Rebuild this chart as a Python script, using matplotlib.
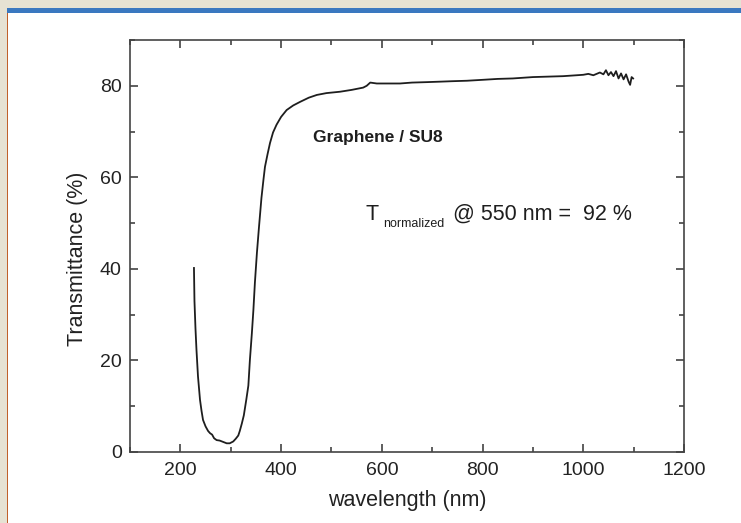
import matplotlib
matplotlib.use("Agg")
import matplotlib.pyplot as plt
from matplotlib.patches import Rectangle
from matplotlib.ticker import MultipleLocator

plt.rcParams["font.family"] = ["Liberation Sans", "DejaVu Sans"]

# transmittance spectrum
wavelength = [227, 228, 230, 232, 235, 239, 242, 245, 250, 255,
              259, 263, 267, 272, 278, 285, 292, 298, 305, 310,
              315, 318, 322, 326, 328, 331, 335, 338, 342, 345,
              348, 352, 356, 361, 365, 368, 373, 378, 384, 391,
              400, 411, 424, 438, 455, 471, 490, 517, 540, 563,
              570, 577, 590, 616, 636, 660, 690, 716, 740, 769,
              800, 830, 860, 900, 930, 960, 987, 1000, 1010, 1020,
              1033, 1040, 1045, 1050, 1055, 1060, 1065, 1070, 1075, 1080,
              1085, 1090, 1093, 1096, 1099]
transmittance = [40.2, 33, 27, 22.3, 16.5, 11.4, 9, 7, 5.6, 4.6,
                 4.1, 3.8, 3.0, 2.6, 2.5, 2.2, 1.9, 1.9, 2.3, 2.9,
                 3.6, 4.6, 6.2, 8, 9.4, 11.5, 14.5, 20, 26, 31,
                 37, 43.5, 49, 55.5, 59.5, 62.3, 65, 67.5, 69.8, 71.5,
                 73.2, 74.7, 75.7, 76.5, 77.4, 78.0, 78.4, 78.7, 79.1, 79.6,
                 80.0, 80.7, 80.5, 80.5, 80.5, 80.7, 80.8, 80.9, 81.0, 81.1,
                 81.3, 81.5, 81.6, 81.9, 82.0, 82.1, 82.3, 82.4, 82.6, 82.3,
                 82.9, 82.5, 83.4, 82.3, 83.0, 82.1, 83.2, 81.6, 82.7, 81.4,
                 82.5, 80.9, 80.2, 81.9, 81.6]

fig = plt.figure(figsize=(7.41, 5.23), dpi=100)
fig.patch.set_facecolor("white")

# slide frame: beige strips, blue header bar, orange edge
W, H = 741, 523
fig.patches.append(Rectangle((0, 1 - 8 / H), 1, 8 / H, transform=fig.transFigure,
                             facecolor="#e6e2d3", edgecolor="none"))
fig.patches.append(Rectangle((0, 1 - 13 / H), 1, 5 / H, transform=fig.transFigure,
                             facecolor="#3a78c0", edgecolor="none"))
fig.patches.append(Rectangle((0, 0), 7 / W, 1 - 8 / H, transform=fig.transFigure,
                             facecolor="#e6e2d3", edgecolor="none"))
fig.patches.append(Rectangle((7 / W, 0), 1.2 / W, 1 - 13 / H, transform=fig.transFigure,
                             facecolor="#c0602a", edgecolor="none"))

ax = fig.add_axes([130 / W, 1 - 452 / H, 554 / W, 412 / H])
ax.plot(wavelength, transmittance, color="#1e1e1e", linewidth=1.3)

ax.set_xlim(100, 1200)
ax.set_ylim(0, 90)
ax.xaxis.set_major_locator(MultipleLocator(200))
ax.xaxis.set_minor_locator(MultipleLocator(100))
ax.yaxis.set_major_locator(MultipleLocator(20))
ax.yaxis.set_minor_locator(MultipleLocator(10))
ax.tick_params(which="both", direction="in", top=True, right=True,
               color="#333333", width=1.1, labelsize=14, labelcolor="#222222")
ax.tick_params(which="major", length=6)
ax.tick_params(axis="x", which="major", pad=7)
ax.tick_params(axis="y", which="major", pad=6)
ax.tick_params(which="minor", length=3.5)
for s in ax.spines.values():
    s.set_color("#444444")
    s.set_linewidth(1.2)

ax.set_xlabel("wavelength (nm)", fontsize=15.5, color="#222222", labelpad=8)
ax.set_ylabel("Transmittance (%)", fontsize=15.5, color="#222222")
ax.yaxis.set_label_coords(-0.076, 0.47)

ax.text(463, 68.8, "Graphene / SU8", fontsize=12.5, fontweight="bold",
        color="#1e1e1e", va="center", ha="left")

# T_normalized label built from three pieces
ax.text(568, 50.7, "T", fontsize=15.5, color="#1e1e1e", va="baseline", ha="left")
ax.text(603, 49.1, "normalized", fontsize=9, color="#1e1e1e", va="baseline", ha="left")
ax.text(742, 50.7, "@ 550 nm =  92 %", fontsize=15.5, color="#1e1e1e",
        va="baseline", ha="left")

fig.savefig("out.png", dpi=100, facecolor=fig.get_facecolor())
